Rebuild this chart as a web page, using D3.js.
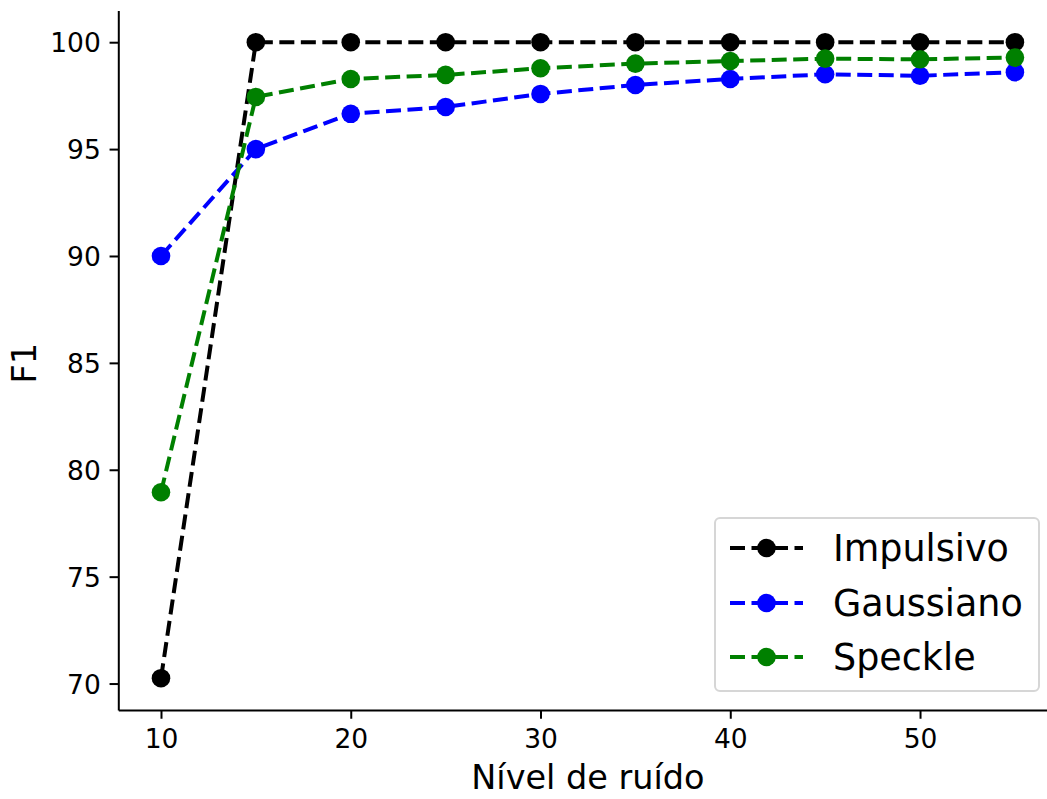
<!DOCTYPE html>
<html>
<head>
<meta charset="utf-8">
<script src="https://cdn.jsdelivr.net/npm/d3@7"></script>
<style>
  html, body { margin: 0; padding: 0; background: #fff; }
  svg { display: block; font-family: "DejaVu Sans", sans-serif; }
</style>
</head>
<body>
<svg id="chart" width="1047" height="799"></svg>
<script>
// Noise levels on the x axis
const noiseLevels = [10, 15, 20, 25, 30, 35, 40, 45, 50, 55];

// F1 scores per noise type
const impulsivo = [70.25, 100, 100, 100, 100, 100, 100, 100, 100, 100];
const gaussiano = [90.0, 95.0, 96.65, 96.97, 97.58, 98.0, 98.28, 98.5, 98.43, 98.6];
const speckle   = [78.95, 97.44, 98.28, 98.47, 98.78, 99.0, 99.12, 99.23, 99.2, 99.28];

const seriesNames = ["Impulsivo", "Gaussiano", "Speckle"];
const seriesColors = ["#000000", "#0000ff", "#008000"];

const xTicks = [10, 20, 30, 40, 50];
const yTicks = [70, 75, 80, 85, 90, 95, 100];

const xLabel = "Nível de ruído";
const yLabel = "F1";

const series = [impulsivo, gaussiano, speckle].map((vals, i) => ({
  name: seriesNames[i],
  color: seriesColors[i],
  points: noiseLevels.map((x, j) => ({ x, y: vals[j] }))
}));

const svg = d3.select("#chart");

// Axes box (left/bottom spines only)
const plot = { left: 118.3, right: 1057.6, top: 10.4, bottom: 710 };

// Data limits padded by 5% each side
const xMin = d3.min(noiseLevels), xMax = d3.max(noiseLevels);
const allY = [].concat(impulsivo, gaussiano, speckle);
const yMin = d3.min(allY), yMax = d3.max(allY);
const xPad = (xMax - xMin) * 0.05, yPad = (yMax - yMin) * 0.05;

const x = d3.scaleLinear().domain([xMin - xPad, xMax + xPad]).range([plot.left, plot.right]);
const y = d3.scaleLinear().domain([yMin - yPad, yMax + yPad]).range([plot.bottom, plot.top]);

const tickLen = 8.75, tickPad = 8.75;

// X axis
const gx = svg.append("g")
  .attr("transform", `translate(0,${plot.bottom})`)
  .call(d3.axisBottom(x).tickValues(xTicks).tickSizeInner(tickLen).tickSizeOuter(0).tickPadding(tickPad).tickFormat(d3.format("d")));

// Y axis
const gy = svg.append("g")
  .attr("transform", `translate(${plot.left},0)`)
  .call(d3.axisLeft(y).tickValues(yTicks).tickSizeInner(tickLen).tickSizeOuter(0).tickPadding(tickPad).tickFormat(d3.format("d")));

[gx, gy].forEach(g => {
  g.select(".domain").attr("stroke", "#000").attr("stroke-width", 2);
  g.selectAll(".tick line").attr("stroke", "#000").attr("stroke-width", 2);
  g.selectAll(".tick text")
    .attr("fill", "#000")
    .style("font-family", "DejaVu Sans")
    .style("font-size", "26.5px");
});
gx.selectAll(".tick text").attr("dy", null).attr("y", tickLen + tickPad).attr("dominant-baseline", "hanging");
gy.selectAll(".tick text").attr("dy", "0.36em");

// Axis titles
svg.append("text")
  .attr("x", (plot.left + plot.right) / 2)
  .attr("y", 789)
  .attr("text-anchor", "middle")
  .style("font-size", "33.5px")
  .attr("fill", "#000")
  .text(xLabel);

svg.append("text")
  .attr("transform", `translate(36,${(plot.top + plot.bottom) / 2 + 3}) rotate(-90)`)
  .attr("text-anchor", "middle")
  .style("font-size", "33.5px")
  .attr("fill", "#000")
  .text(yLabel);

// Lines and markers
const dash = "15,6.5";
const lineW = 4;
const markerR = 9.3;

const line = d3.line().x(d => x(d.x)).y(d => y(d.y));

series.forEach(s => {
  const g = svg.append("g");
  g.append("path")
    .datum(s.points)
    .attr("d", line)
    .attr("fill", "none")
    .attr("stroke", s.color)
    .attr("stroke-width", lineW)
    .attr("stroke-dasharray", dash)
    .attr("stroke-linejoin", "round");
  g.selectAll("circle")
    .data(s.points)
    .join("circle")
    .attr("cx", d => x(d.x))
    .attr("cy", d => y(d.y))
    .attr("r", markerR)
    .attr("fill", s.color);
});

// Legend
const legend = svg.append("g");
legend.append("rect")
  .attr("x", 715).attr("y", 518)
  .attr("width", 324).attr("height", 173)
  .attr("rx", 5).attr("ry", 5)
  .attr("fill", "#fff").attr("fill-opacity", 0.8)
  .attr("stroke", "#d6d6d6").attr("stroke-width", 2);

const rowY = [548, 603, 657];
series.forEach((s, i) => {
  const cy = rowY[i];
  legend.append("line")
    .attr("x1", 730).attr("x2", 803)
    .attr("y1", cy).attr("y2", cy)
    .attr("stroke", s.color)
    .attr("stroke-width", lineW)
    .attr("stroke-dasharray", dash);
  legend.append("circle")
    .attr("cx", 766.5).attr("cy", cy)
    .attr("r", markerR)
    .attr("fill", s.color);
  legend.append("text")
    .attr("x", 833).attr("y", cy + 13)
    .style("font-size", "36.5px")
    .attr("fill", "#000")
    .text(s.name);
});
</script>
</body>
</html>
